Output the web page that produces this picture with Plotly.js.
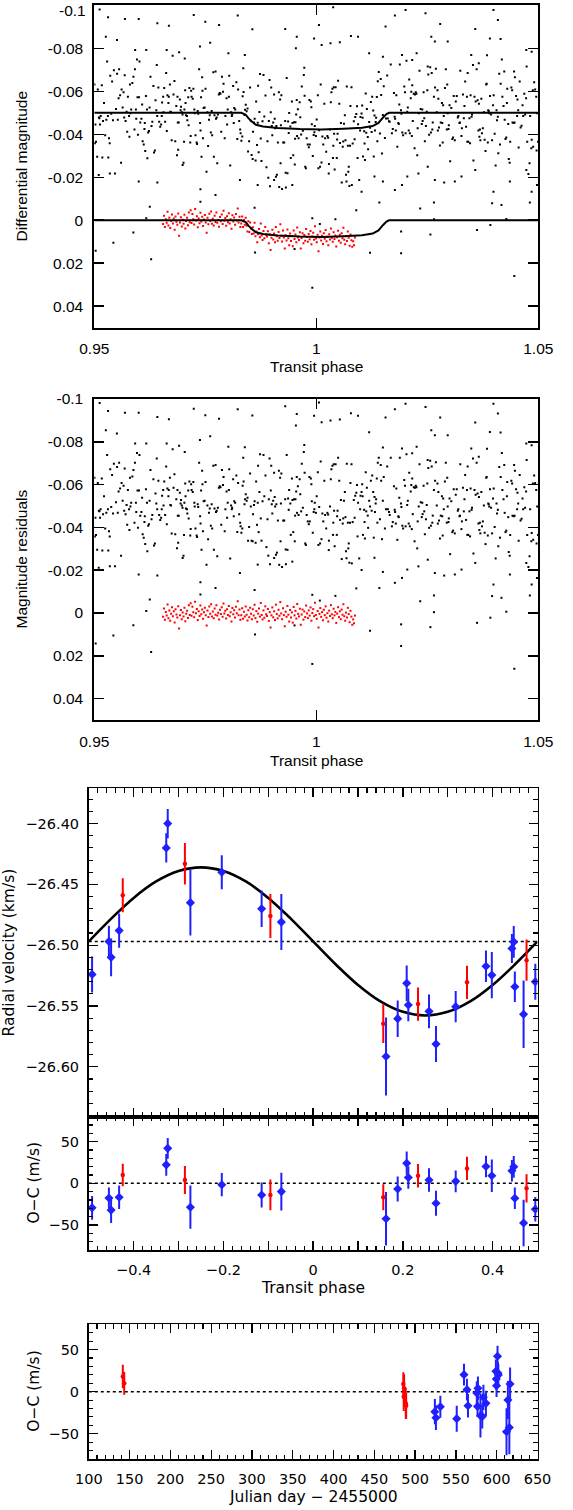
<!DOCTYPE html>
<html>
<head>
<meta charset="utf-8">
<script src="https://cdn.plot.ly/plotly-3.0.1.min.js"></script>
<style>html,body{margin:0;padding:0;background:#fff;}#chart{width:573px;height:1510px;}</style>
</head>
<body>
<div id="chart"></div>
<script>
// ---------------- Photometry (panels 1 & 2) ----------------
// black light curve outside the transit window: [phase, magnitude (offset -0.05)], same in both panels
const blackOut = [
[.95003,-.0632],[.95013,-.0358],[.95025,-.0445],[.95039,-.0365],[.95065,-.0295],[.95079,-.0608],[.95103,-.0478],[.95115,-.0475],[.95129,-.0445],[.95143,-.0485],
[.95169,-.0628],[.95181,-.0292],[.95197,-.0462],[.95219,-.0545],[.95245,-.0395],[.95271,-.0468],[.95289,-.0738],[.95307,-.0485],[.95315,-.0292],[.95331,-.0382],
[.95347,-.0358],[.95359,-.0672],[.95381,-.0495],[.95401,-.0645],[.95421,-.0465],[.95441,-.0698],[.95465,-.0218],[.95489,-.0518],[.95513,-.0682],[.95529,-.0468],
[.95547,-.0568],[.95559,-.0702],[.95581,-.0582],[.95603,-.0268],[.95615,-.0608],[.95639,-.0525],[.95659,-.0595],[.95673,-.0478],[.95685,-.0675],[.95705,-.0462],
[.95727,-.0505],[.95741,-.0412],[.95757,-.0575],[.95783,-.0485],[.95791,-.0388],[.95803,-.0632],[.95813,-.0498],[.95831,-.0515],[.95857,-.0638],[.95881,-.0668],
[.95905,-.0422],[.95915,-.0702],[.95937,-.0515],[.95945,-.0472],[.95961,-.0748],[.95973,-.0572],[.95983,-.0398],[.96007,-.0572],[.96017,-.0738],[.96035,-.0455],
[.96061,-.0472],[.96077,-.0538],[.96089,-.0368],[.96113,-.0352],[.96129,-.0425],[.96137,-.0452],[.96147,-.0322],[.96163,-.0578],[.96187,-.0515],[.96195,-.0288],
[.96213,-.0408],[.96231,-.0415],[.96245,-.0525],[.96265,-.0668],[.96289,-.0438],[.96307,-.0458],[.96331,-.0625],[.96345,-.0315],[.96365,-.0325],[.96379,-.0558],
[.96397,-.0512],[.96407,-.0722],[.96417,-.0485],[.96443,-.0618],[.96461,-.0458],[.96485,-.0435],[.96505,-.0445],[.96519,-.0485],[.96527,-.0548],[.96551,-.0575],
[.96559,-.0502],[.96575,-.0615],[.96595,-.0458],[.96619,-.0685],[.96633,-.0415],[.96647,-.0582],[.96669,-.0545],[.96677,-.0575],[.96703,-.0632],[.96713,-.0505],
[.96727,-.0502],[.96743,-.0372],[.96765,-.0765],[.96785,-.0585],[.96805,-.0648],[.96823,-.0368],[.96847,-.0532],[.96863,-.0302],[.96873,-.0575],[.96881,-.0455],
[.96889,-.0328],[.96901,-.0455],[.96927,-.0562],[.96943,-.0512],[.96953,-.0528],[.96971,-.0502],[.96987,-.0492],[.97009,-.0268],[.97021,-.0365],[.97029,-.0515],
[.97037,-.0752],[.97047,-.0605],[.97055,-.0545],[.97063,-.0488],[.97087,-.0485],[.97095,-.0465],[.97115,-.0572],[.97125,-.0442],[.97141,-.0615],[.97161,-.0362],
[.97171,-.0392],[.97181,-.0602],[.97191,-.0575],[.97217,-.0565],[.97231,-.0612],[.97253,-.0515],[.97261,-.0498],[.97279,-.0395],[.97305,-.0362],[.97315,-.0355],
[.97329,-.0508],[.97341,-.0495],[.97361,-.0702],[.97383,-.0452],[.97393,-.0418],[.97405,-.0572],[.97415,-.0295],[.97429,-.0665],[.97437,-.0602],[.97447,-.0382],
[.97463,-.0522],[.97485,-.0525],[.97505,-.0612],[.97527,-.0225],[.97547,-.0502],[.97563,-.0345],[.97583,-.0468],[.97601,-.0488],[.97625,-.0408],[.97643,-.0508],
[.97655,-.0395],[.97681,-.0688],[.97693,-.0295],[.97707,-.0488],[.97731,-.0692],[.97741,-.0472],[.97757,-.0478],[.97769,-.0265],[.97783,-.0492],[.97805,-.0585],
[.97825,-.0592],[.97841,-.0588],[.97859,-.0412],[.97875,-.0668],[.97899,-.0598],[.97911,-.0635],[.97937,-.0382],[.97953,-.0485],[.97979,-.0568],[.97991,-.0445],
[.98005,-.0515],[.98031,-.0575],[.98039,-.0672],[.98061,-.0255],[.98081,-.0502],[.98097,-.0485],[.98105,-.0492],[.98127,-.0625],[.98141,-.0452],[.98151,-.0522],
[.98173,-.0515],[.98199,-.0642],[.98221,-.0378],[.98239,-.0608],[.98263,-.0462],[.98285,-.0422],[.98295,-.0405],
[1.01653,-.0458],[1.01677,-.0725],[1.01703,-.0405],[1.01723,-.0425],[1.01749,-.0592],[1.01765,-.0482],[1.01775,-.0472],[1.01791,-.0418],[1.01803,-.0582],[1.01825,-.0342],
[1.01847,-.0452],[1.01857,-.0448],[1.01869,-.0538],[1.01881,-.0725],[1.01907,-.0512],[1.01917,-.0495],[1.01937,-.0408],[1.01955,-.0395],[1.01981,-.0622],[1.01997,-.0595],
[1.02011,-.0405],[1.02031,-.0742],[1.02047,-.0505],[1.02061,-.0525],[1.02081,-.0418],[1.02093,-.0655],[1.02107,-.0405],[1.02127,-.0568],[1.02139,-.0598],[1.02151,-.0392],
[1.02161,-.0628],[1.02173,-.0462],[1.02195,-.0588],[1.02213,-.0335],[1.02221,-.0585],[1.02241,-.0595],[1.02255,-.0588],[1.02273,-.0302],[1.02283,-.0428],[1.02307,-.0498],
[1.02325,-.0695],[1.02351,-.0518],[1.02375,-.0448],[1.02387,-.0515],[1.02395,-.0462],[1.02417,-.0595],[1.02431,-.0475],[1.02445,-.0368],[1.02469,-.0438],[1.02487,-.0505],
[1.02501,-.0605],[1.02509,-.0715],[1.02523,-.0678],[1.02541,-.0398],[1.02565,-.0712],[1.02581,-.0408],[1.02599,-.0685],[1.02613,-.0422],[1.02623,-.0455],[1.02649,-.0575],
[1.02675,-.0618],[1.02693,-.0705],[1.02713,-.0502],[1.02729,-.0605],[1.02737,-.0418],[1.02749,-.0565],[1.02763,-.0432],[1.02785,-.0348],[1.02803,-.0455],[1.02829,-.0545],
[1.02837,-.0452],[1.02847,-.0362],[1.02857,-.0535],[1.02871,-.0485],[1.02897,-.0615],[1.02917,-.0702],[1.02939,-.0422],[1.02949,-.0632],[1.02959,-.0498],[1.02977,-.0425],
[1.02985,-.0442],[1.03001,-.0535],[1.03015,-.0275],[1.03041,-.0522],[1.03063,-.0378],[1.03081,-.0385],[1.03095,-.0578],[1.03119,-.0372],[1.03141,-.0552],[1.03163,-.0578],
[1.03187,-.0478],[1.03199,-.0485],[1.03225,-.0452],[1.03235,-.0455],[1.03243,-.0695],[1.03269,-.0392],[1.03279,-.0428],[1.03303,-.0585],[1.03323,-.0475],[1.03337,-.0532],
[1.03353,-.0645],[1.03373,-.0435],[1.03393,-.0575],[1.03401,-.0365],[1.03409,-.0685],[1.03423,-.0365],[1.03449,-.0475],[1.03463,-.0358],[1.03475,-.0582],[1.03497,-.0482],
[1.03507,-.0492],[1.03529,-.0722],[1.03539,-.0278],[1.03563,-.0575],[1.03589,-.0552],[1.03611,-.0702],[1.03633,-.0558],[1.03651,-.0418],[1.03663,-.0542],[1.03673,-.0388],
[1.03685,-.0422],[1.03695,-.0372],[1.03717,-.0565],[1.03731,-.0405],[1.03751,-.0428],[1.03775,-.0502],[1.03791,-.0375],[1.03811,-.0322],[1.03827,-.0632],[1.03837,-.0635],
[1.03845,-.0768],[1.03863,-.0362],[1.03873,-.0512],[1.03883,-.0508],[1.03895,-.0498],[1.03913,-.0578],[1.03937,-.0492],[1.03959,-.0372],[1.03981,-.0535],[1.03995,-.0582],
[1.04017,-.0402],[1.04039,-.0255],[1.04059,-.0512],[1.04069,-.0465],[1.04089,-.0482],[1.04099,-.0312],[1.04121,-.0682],[1.04137,-.0352],[1.04153,-.0635],[1.04179,-.0748],
[1.04191,-.0575],[1.04217,-.0532],[1.04233,-.0692],[1.04243,-.0468],[1.04261,-.0378],[1.04279,-.0385],[1.04293,-.0545],[1.04301,-.0612],[1.04323,-.0448],[1.04335,-.0285],
[1.04355,-.0268],[1.04367,-.0365],[1.04393,-.0618],[1.04411,-.0605],[1.04419,-.0455],[1.04445,-.0452],[1.04455,-.0692],[1.04465,-.0455],[1.04473,-.0665],[1.04499,-.0578],
[1.04523,-.0485],[1.04531,-.0562],[1.04547,-.0512],[1.04557,-.0338],[1.04581,-.0645],[1.04601,-.0432],[1.04623,-.0440],[1.04645,-.0535],[1.04659,-.0485],[1.04685,-.0588],
[1.04703,-.0492],[1.04725,-.0568],[1.04737,-.0715],[1.04751,-.0365],[1.04777,-.0215],[1.04803,-.0265],[1.04817,-.0485],[1.04843,-.0335],[1.04851,-.0374],[1.04877,-.0605],
[1.04885,-.0342],[1.04907,-.0642],[1.04929,-.0608],[1.04953,-.0575],[1.04961,-.0325],[1.04975,-.0498],[1.04993,-.0365],
// outliers read individually
[.9512,-.0981],[.9531,-.0944],[.9569,-.0936],[.9600,-.0936],[.9642,-.0916],[.9668,-.0905],[.9724,-.0955],[.9750,-.0924],[.9781,-.0908],[.9823,-.0952],
[1.0177,-.0952],[1.0201,-.0978],[1.0246,-.0963],[1.0279,-.0913],[1.0358,-.0890],[1.0399,-.0978],[1.0409,-.0932],[1.0415,-.0843],
[.9551,-.0839],[.9526,-.0854],[.9592,-.0792],[.9617,-.0792],[.9663,-.0792],[.9691,-.0781],[.9738,-.0808],[.9761,-.0826],[.9802,-.0777],
[1.0193,-.0769],[1.0216,-.0746],[1.0226,-.0777],[1.0259,-.0854],[1.0267,-.0831],[1.0296,-.0831],[1.0349,-.0769],[1.0366,-.0730],[1.0391,-.0846],[1.0473,-.0792],[1.0485,-.0784],
[.9510,-.0211],[.9535,-.0218],[.9600,-.0180],[.9642,-.0175],[.9699,-.0257],[.9739,-.0144],[.9773,-.0117],[.9828,-.0187],
[1.0177,-.0141],[1.0193,-.0164],[1.0205,-.0203],[1.0230,-.0218],[1.0251,-.0249],[1.0267,-.0187],[1.0288,-.0175],[1.0312,-.0180],[1.0327,-.0203],[1.0358,-.0234],[1.0399,-.0133],[1.0436,-.0180],[1.0473,-.0234],[1.0485,-.0133],[1.0497,-.0164],
[.9625,-.0063],[.9617,-.0009],[.9588,.0057],[.9543,.0105],[.9503,.0142],[.9628,.0182],[.9739,-.0086],
[1.0191,.0053],[1.0191,.0154],[1.0234,-.0055],[1.0257,.0066],[1.0265,-.0082],[1.0265,-.0004],[1.0362,.0046],[1.0392,.0022],[1.0396,-.0079],[1.0417,-.0071],[1.0428,-.0006],[1.0446,.0260],[1.0481,-.0082]
];
// black light curve inside the transit window: [phase, diff. magnitude, residual]
const blackIn = [
[.98313,-.0370,-.0375],[.98333,-.0390,-.0395],[.98341,-.0577,-.0595],[.98355,-.0707,-.0725],[.98363,-.0597,-.0615],[.98383,-.0490,-.0508],[.98395,-.0514,-.0532],[.98411,-.0537,-.0555],[.98431,-.0507,-.0525],[.98451,-.0520,-.0538],
[.98463,-.0320,-.0338],[.98487,-.0367,-.0402],[.98509,-.0617,-.0652],[.98525,-.0463,-.0498],[.98543,-.0303,-.0338],[.98567,-.0285,-.0335],[.98575,-.0412,-.0462],[.98597,-.0455,-.0505],[.98611,-.0472,-.0522],[.98633,-.0278,-.0328],
[.98645,-.0553,-.0615],[.98665,-.0350,-.0412],[.98681,-.0453,-.0515],[.98689,-.0626,-.0688],[.98701,-.0316,-.0378],[.98719,-.0503,-.0565],[.98733,-.0680,-.0742],[.98749,-.0380,-.0442],[.98765,-.0276,-.0338],[.98789,-.0460,-.0522],
[.98811,-.0676,-.0738],[.98829,-.0483,-.0545],[.98855,-.0580,-.0642],[.98877,-.0246,-.0308],[.98901,-.0368,-.0438],[.98919,-.0198,-.0268],[.98931,-.0462,-.0532],[.98947,-.0652,-.0722],[.98957,-.0158,-.0228],[.98975,-.0502,-.0572],
[.98985,-.0618,-.0688],[.98997,-.0438,-.0508],[.99009,-.0395,-.0465],[.99029,-.0455,-.0525],[.99049,-.0585,-.0655],[.99063,-.0472,-.0542],[.99073,-.0428,-.0498],[.99091,-.0202,-.0272],[.99101,-.0438,-.0508],[.99113,-.0212,-.0282],
[.99135,-.0362,-.0432],[.99157,-.0595,-.0665],[.99165,-.0155,-.0225],[.99185,-.0562,-.0632],[.99195,-.0265,-.0335],[.99203,-.0442,-.0512],[.99213,-.0582,-.0652],[.99229,-.0145,-.0215],[.99255,-.0362,-.0432],[.99277,-.0362,-.0432],
[.99299,-.0462,-.0532],[.99315,-.0152,-.0228],[.99333,-.0662,-.0738],[.99351,-.0219,-.0295],[.99365,-.0459,-.0535],[.99379,-.0406,-.0482],[.99389,-.0499,-.0575],[.99415,-.0436,-.0512],[.99425,-.0289,-.0365],[.99451,-.0552,-.0628],
[.99463,-.0452,-.0528],[.99481,-.0302,-.0378],[.99499,-.0456,-.0532],[.99515,-.0259,-.0335],[.99523,-.0379,-.0455],[.99531,-.0456,-.0532],[.99547,-.0492,-.0568],[.99559,-.0559,-.0635],[.99567,-.0392,-.0468],[.99585,-.0516,-.0592],
[.99601,-.0382,-.0458],[.99625,-.0549,-.0625],[.99639,-.0479,-.0555],[.99659,-.0399,-.0475],[.99673,-.0622,-.0698],[.99697,-.0416,-.0492],[.99719,-.0676,-.0752],[.99729,-.0709,-.0785],[.99737,-.0579,-.0655],[.99751,-.0249,-.0325],
[.99765,-.0242,-.0318],[.99783,-.0382,-.0458],[.99807,-.0352,-.0428],[.99831,-.0339,-.0415],[.99845,-.0559,-.0635],[.99853,-.0352,-.0428],[.99877,-.0552,-.0628],[.99889,-.0526,-.0602],[.99899,-.0446,-.0522],[.99921,-.0299,-.0375],
[.99941,-.0396,-.0472],[.99957,-.0409,-.0485],[.99965,-.0439,-.0515],[.99991,-.0392,-.0468],[1.00009,-.0469,-.0545],[1.00035,-.0582,-.0658],[1.00047,-.0242,-.0318],[1.00065,-.0419,-.0495],[1.00085,-.0249,-.0325],[1.00099,-.0632,-.0708],
[1.00117,-.0269,-.0345],[1.00137,-.0389,-.0465],[1.00157,-.0352,-.0428],[1.00181,-.0542,-.0618],[1.00199,-.0382,-.0458],[1.00223,-.0319,-.0395],[1.00249,-.0392,-.0468],[1.00267,-.0384,-.0460],[1.00285,-.0262,-.0338],[1.00309,-.0422,-.0498],
[1.00327,-.0549,-.0625],[1.00341,-.0596,-.0672],[1.00363,-.0612,-.0688],[1.00375,-.0289,-.0365],[1.00383,-.0346,-.0422],[1.00393,-.0619,-.0695],[1.00401,-.0402,-.0478],[1.00413,-.0236,-.0312],[1.00435,-.0619,-.0695],[1.00461,-.0289,-.0365],
[1.00469,-.0376,-.0452],[1.00479,-.0402,-.0478],[1.00491,-.0649,-.0725],[1.00517,-.0542,-.0618],[1.00535,-.0359,-.0435],[1.00555,-.0452,-.0528],[1.00573,-.0176,-.0252],[1.00595,-.0342,-.0418],[1.00607,-.0366,-.0442],[1.00623,-.0449,-.0525],
[1.00643,-.0489,-.0565],[1.00657,-.0372,-.0448],[1.00669,-.0212,-.0288],[1.00687,-.0622,-.0698],[1.00711,-.0346,-.0422],[1.00721,-.0226,-.0302],[1.00731,-.0249,-.0325],[1.00745,-.0159,-.0235],[1.00759,-.0346,-.0422],[1.00769,-.0532,-.0608],
[1.00793,-.0619,-.0695],[1.00819,-.0357,-.0425],[1.00845,-.0460,-.0528],[1.00863,-.0377,-.0445],[1.00877,-.0480,-.0548],[1.00901,-.0494,-.0562],[1.00917,-.0530,-.0598],[1.00929,-.0290,-.0358],[1.00941,-.0447,-.0515],[1.00967,-.0187,-.0255],
[1.00987,-.0417,-.0485],[1.00995,-.0480,-.0548],[1.01019,-.0497,-.0565],[1.01033,-.0534,-.0602],[1.01043,-.0477,-.0545],[1.01051,-.0297,-.0365],[1.01077,-.0414,-.0482],[1.01087,-.0357,-.0425],[1.01095,-.0280,-.0348],[1.01113,-.0590,-.0658],
[1.01125,-.0407,-.0475],[1.01139,-.0517,-.0585],[1.01159,-.0387,-.0455],[1.01167,-.0330,-.0398],[1.01191,-.0457,-.0525],[1.01211,-.0430,-.0498],[1.01229,-.0550,-.0618],[1.01247,-.0410,-.0478],[1.01259,-.0574,-.0642],[1.01281,-.0510,-.0565],
[1.01295,-.0297,-.0352],[1.01311,-.0487,-.0542],[1.01321,-.0417,-.0472],[1.01337,-.0457,-.0512],[1.01347,-.0477,-.0532],[1.01363,-.0573,-.0628],[1.01375,-.0367,-.0422],[1.01385,-.0647,-.0702],[1.01407,-.0690,-.0725],[1.01433,-.0403,-.0438],
[1.01451,-.0657,-.0692],[1.01461,-.0583,-.0618],[1.01479,-.0310,-.0345],[1.01499,-.0490,-.0525],[1.01519,-.0623,-.0635],[1.01545,-.0383,-.0395],[1.01571,-.0473,-.0485],[1.01597,-.0673,-.0685],[1.01611,-.0473,-.0485],[1.01637,-.0460,-.0472],
// outliers read individually
[.9839,-.0769,-.0774],[.9856,-.0888,-.0923],[.9861,-.0058,-.0108],[.9862,.0150,.0100],[.9868,-.0164,-.0226],[.9905,-.0187,-.0257],[.9930,-.0890,-.0966],[.9931,-.0221,-.0297],
[.9946,-.0164,-.0240],[.9951,.0134,.0058],[.9954,-.0800,-.0876],[.9956,-.0854,-.0930],[.9991,-.0009,-.0085],[.9991,.0314,.0238],[.9995,-.0846,-.0922],[1.0006,-.0908,-.0984],
[1.0008,.0018,-.0058],[1.0012,-.0815,-.0891],[1.0028,-.0218,-.0294],[1.0032,-.0823,-.0899],[1.0038,-.0991,-.1067],[1.0043,-.0004,-.0080],[1.0053,-.0828,-.0904],[1.0068,-.0180,-.0256],
[1.0078,-.0857,-.0933],[1.0080,-.0164,-.0232],[1.0090,-.0047,-.0115],[1.0094,-.0854,-.0922],[1.0102,-.0133,-.0201],[1.0119,-.0777,-.0845],[1.0121,.0151,.0083],[1.0131,-.0203,-.0258],
[1.0142,-.0082,-.0117],[1.0150,-.0761,-.0773],[1.0150,-.0180,-.0192],[1.0156,-.0901,-.0913]
];
// red light curve outside transit: [phase, magnitude] (same in both panels)
const redOut = [
[.9655,.0018],[.9657,-.0021],[.9659,.0031],[.9661,-.0005],[.9663,.0012],[.9665,-.0040],[.9667,.0025],[.9669,-.0012],[.9671,.0036],[.9673,.0003],[.9675,-.0027],[.9677,.0015],[.9679,-.0008],[.9681,.0044],[.9683,-.0017],[.9685,.0007],[.9687,.0021],[.9689,-.0031],[.9691,.0072],[.9693,.0010],
[.9695,-.0014],[.9697,.0029],[.9699,-.0002],[.9701,.0016],[.9703,-.0025],[.9705,.0038],[.9707,.0004],[.9709,-.0011],[.9711,.0023],[.9713,-.0036],[.9715,.0009],[.9717,-.0046],[.9719,.0013],[.9721,-.0029],[.9723,-.0004],[.9725,.0020],[.9727,-.0052],[.9729,.0001],[.9731,-.0019],[.9733,.0033],
[.9735,-.0008],[.9737,.0014],[.9739,-.0035],[.9741,.0006],[.9743,-.0016],[.9745,.0027],[.9747,-.0003],[.9749,-.0024],[.9751,.0011],[.9753,.0058],[.9755,-.0012],[.9757,.0019],[.9759,-.0030],[.9761,.0003],[.9763,-.0041],[.9765,.0016],[.9767,-.0007],[.9769,.0024],[.9771,-.0021],[.9773,.0008],
[.9775,-.0036],[.9777,.0012],[.9779,-.0001],[.9781,.0030],[.9783,-.0015],[.9785,.0005],[.9787,-.0027],[.9789,.0018],[.9791,-.0044],[.9793,.0002],[.9795,-.0010],[.9797,.0026],[.9799,-.0018],[.9801,.0009],[.9803,-.0033],[.9805,.0015],[.9807,-.0004],[.9809,.0040],[.9811,-.0023],[.9813,.0006],
[.9815,-.0013],[.9817,.0021],[.9819,-.0029],[.9821,.0001],[.9823,-.0055],[.9825,.0011],[.9827,-.0016],[.9829,.0032]
];
// red light curve in transit window: [phase, diff. magnitude, residual]
const redIn = [
[.9831,.0015,.0010],[.9833,-.0017,-.0022],[.9835,.0032,.0027],[.9837,-.0001,-.0006],[.9839,.0021,.0016],[.9841,-.0012,-.0030],[.9843,.0026,.0008],[.9845,.0053,.0035],[.9847,.0005,-.0013],[.9849,.0055,.0020],
[.9851,.0010,-.0025],[.9853,.0039,.0004],[.9855,.0064,.0029],[.9857,.0033,-.0017],[.9859,.0062,.0012],[.9861,.0012,-.0038],[.9863,.0074,.0024],[.9865,.0053,-.0009],[.9867,.0103,.0041],[.9869,.0065,.0003],
[.9871,.0041,-.0021],[.9873,.0079,.0017],[.9875,.0015,-.0047],[.9877,.0071,.0009],[.9879,.0092,.0030],[.9881,.0050,-.0012],[.9883,.0084,.0022],[.9885,.0031,-.0031],[.9887,.0068,.0006],[.9889,.0076,.0014],
[.9891,.0051,-.0019],[.9893,.0107,.0037],[.9895,.0066,-.0004],[.9897,.0138,.0068],[.9899,.0081,.0011],[.9901,.0044,-.0026],[.9903,.0090,.0020],[.9905,.0062,-.0008],[.9907,.0103,.0033],[.9909,.0031,-.0039],
[.9911,.0075,.0005],[.9913,.0095,.0025],[.9915,.0055,-.0015],[.9917,.0083,.0013],[.9919,.0019,-.0051],[.9921,.0072,.0002],[.9923,.0099,.0029],[.9925,.0048,-.0022],[.9927,.0080,.0010],[.9929,.0132,.0062],
[.9931,.0070,-.0006],[.9933,.0094,.0018],[.9935,.0043,-.0033],[.9937,.0084,.0008],[.9939,.0116,.0040],[.9941,.0062,-.0014],[.9943,.0097,.0021],[.9945,.0073,-.0003],[.9947,.0121,.0045],[.9949,.0048,-.0028],
[.9951,.0087,.0011],[.9953,.0066,-.0010],[.9955,.0102,.0026],[.9957,.0034,-.0042],[.9959,.0080,.0004],[.9961,.0092,.0016],[.9963,.0056,-.0020],[.9965,.0131,.0055],[.9967,.0083,.0007],[.9969,.0060,-.0016],
[.9971,.0107,.0031],[.9973,.0069,-.0007],[.9975,.0095,.0019],[.9977,.0041,-.0035],[.9979,.0078,.0002],[.9981,.0100,.0024],[.9983,.0064,-.0012],[.9985,.0088,.0012],[.9987,.0050,-.0026],[.9989,.0112,.0036],
[.9991,.0076,.0000],[.9993,.0058,-.0018],[.9995,.0091,.0015],[.9997,.0028,-.0048],[.9999,.0085,.0009],[1.0001,.0103,.0027],[1.0003,.0067,-.0009],[1.0005,.0144,.0068],[1.0007,.0080,.0004],[1.0009,.0053,-.0023],
[1.0011,.0094,.0018],[1.0013,.0072,-.0004],[1.0015,.0110,.0034],[1.0017,.0061,-.0015],[1.0019,.0086,.0010],[1.0021,.0045,-.0031],[1.0023,.0098,.0022],[1.0025,.0077,.0001],[1.0027,.0116,.0040],[1.0029,.0065,-.0011],
[1.0031,.0090,.0014],[1.0033,.0039,-.0037],[1.0035,.0082,.0006],[1.0037,.0100,.0024],[1.0039,.0056,-.0020],[1.0041,.0087,.0011],[1.0043,.0071,-.0005],[1.0045,.0122,.0046],[1.0047,.0079,.0003],[1.0049,.0049,-.0027],
[1.0051,.0095,.0019],[1.0053,.0068,-.0008],[1.0055,.0105,.0029],[1.0057,.0060,-.0016],[1.0059,.0084,.0008],[1.0061,.0035,-.0041],[1.0063,.0091,.0015],[1.0065,.0112,.0036],[1.0067,.0074,-.0002],[1.0069,.0097,.0021],
[1.0071,.0052,-.0024],[1.0073,.0081,.0005],[1.0075,.0119,.0043],[1.0077,.0066,-.0010],[1.0079,.0093,.0017],[1.0081,.0123,.0055],[1.0083,.0098,.0030],[1.0085,.0116,.0048],[1.0087,.0080,.0012]
];
// transit model
const modelPhase = [0.95,0.9831,0.9841,0.9847,0.9856,0.9864,0.9880,0.9913,0.9963,1.0012,1.0061,1.0103,1.0127,1.0140,1.0150,1.0158,1.0164,1.05];
const modelLower = [0,0,0.0009,0.0025,0.0043,0.0056,0.0064,0.0071,0.0076,0.0078,0.0074,0.0070,0.0062,0.0047,0.0023,0.0006,0,0];
const modelUpper = [-0.05,-0.05,-0.0491,-0.0475,-0.0457,-0.0444,-0.0436,-0.0429,-0.0424,-0.0422,-0.0426,-0.0430,-0.0438,-0.0453,-0.0477,-0.0494,-0.05,-0.05];
const photXTicks = [0.95,1,1.05];
const photXText = ['0.95','1','1.05'];
const photYTicks = [-0.1,-0.08,-0.06,-0.04,-0.02,0,0.02,0.04];
const photYText = ['-0.1','-0.08','-0.06','-0.04','-0.02','0','0.02','0.04'];

// ---------------- Radial velocities ----------------
const bluePhase = [-0.4927,-0.4552,-0.4503,-0.4324,-0.3274,-0.3241,-0.2736,-0.2036,-0.1148,-0.0709,0.1624,0.1884,0.2085,0.2121,0.2582,0.2738,0.3177,0.3852,0.3982,0.4430,0.4471,0.4495,0.4690,0.4951];
const blueRV = [-26.524,-26.497,-26.510,-26.488,-26.420,-26.400,-26.465,-26.440,-26.470,-26.481,-26.5915,-26.5604,-26.5313,-26.5492,-26.5544,-26.5813,-26.5505,-26.5173,-26.5246,-26.5027,-26.4973,-26.5342,-26.5568,-26.530];
const blueRVerr = [0.0148,0.013,0.0155,0.014,0.012,0.012,0.027,0.014,0.015,0.023,0.032,0.015,0.0147,0.0133,0.0139,0.0148,0.0128,0.013,0.019,0.012,0.013,0.0126,0.0277,0.0148];
const blueOC = [-29.4,-17.5,-32.1,-16.7,22.2,42.0,-28.6,-1.6,-13.9,-9.9,-42.5,-6.7,24.2,7.1,4.0,-23.8,2.4,20.2,9.1,15.1,19.8,-17.9,-47.6,-31.0];
const blueOCerr = [14.3,12.5,15.5,14,13,12.5,26,14,15,22.6,32,15,14,13.5,14,15,13,13,19.5,13,13,13,28,14.7];
const blueJD = [582.3,576.5,551.0,564.8,601.5,601.0,580.1,575.6,586.8,613.7,615.5,583.7,599.0,599.8,577.0,524.2,563.5,559.9,616.4,599.5,602.0,530.9,612.0,525.5];

const redPhase = [-0.4243,-0.2858,-0.0953,0.1563,0.2337,0.3429,0.4756];
const redRV = [-26.459,-26.433,-26.476,-26.5645,-26.5484,-26.5305,-26.5123];
const redRVerr = [0.014,0.017,0.018,0.016,0.0137,0.0137,0.017];
const redOC = [9.9,4.0,-13.9,-16.7,9.1,17.9,-6.0];
const redOCerr = [13.5,16.7,18.5,15.5,14,14,17];
const redJD = [143.4,486.5,488.5,489.0,485.5,141.7,486.0];

// orbital model
const rvModelPhase = [-0.5,-0.45,-0.4,-0.35,-0.3,-0.25,-0.2,-0.15,-0.1,-0.05,0,0.05,0.1,0.15,0.2,0.25,0.3,0.35,0.4,0.45,0.5];
const rvModel = [-26.4969,-26.4781,-26.4611,-26.4476,-26.4390,-26.4360,-26.4390,-26.4476,-26.4611,-26.4781,-26.4969,-26.5157,-26.5327,-26.5462,-26.5548,-26.5578,-26.5548,-26.5462,-26.5327,-26.5157,-26.4969];
const rvGamma = -26.497;
const phaseSpan = [-0.5,0.5];
const jdSpan = [100,650];
const phaseTicks = [-0.5,-0.4,-0.3,-0.2,-0.1,0,0.1,0.2,0.3,0.4,0.5];
const phaseTickText = ['','\u22120.4','','\u22120.2','','0','','0.2','','0.4',''];

// ---------------- drawing ----------------
const col = (a,i) => a.map(p => p[i]);
const BLUE = 'rgb(32,32,255)', RED = 'rgb(255,0,0)';
const photFont = {family:'Liberation Sans, Arial, sans-serif', size:15.5, color:'#000'};
const idlFont = {family:'DejaVu Sans, sans-serif', size:14.5, color:'#000'};
const idlTitle = {family:'DejaVu Sans, sans-serif', size:15.5, color:'#000'};

const traces = [];
function phot(xa, ya, inCol){
  traces.push({type:'scatter',mode:'markers',xaxis:xa,yaxis:ya,
    x: col(blackOut,0).concat(col(blackIn,0)),
    y: col(blackOut,1).concat(col(blackIn,inCol)),
    marker:{symbol:'square',size:2,color:'#000',line:{width:0}},hoverinfo:'skip'});
  traces.push({type:'scatter',mode:'markers',xaxis:xa,yaxis:ya,
    x: col(redOut,0).concat(col(redIn,0)),
    y: col(redOut,1).concat(col(redIn,inCol)),
    marker:{symbol:'square',size:2,color:RED,line:{width:0}},hoverinfo:'skip'});
}
phot('x','y',1);
traces.push({type:'scatter',mode:'lines',xaxis:'x',yaxis:'y',x:modelPhase,y:modelLower,line:{color:'#000',width:2},hoverinfo:'skip'});
traces.push({type:'scatter',mode:'lines',xaxis:'x',yaxis:'y',x:modelPhase,y:modelUpper,line:{color:'#000',width:2},hoverinfo:'skip'});
phot('x2','y2',2);

// RV panel
traces.push({type:'scatter',mode:'lines',xaxis:'x3',yaxis:'y3',x:phaseSpan,y:[rvGamma,rvGamma],line:{color:'#000',width:1.5,dash:'dot'},hoverinfo:'skip'});
traces.push({type:'scatter',mode:'lines',xaxis:'x3',yaxis:'y3',x:rvModelPhase,y:rvModel,line:{color:'#000',width:2.6,shape:'spline',smoothing:1},hoverinfo:'skip'});
function rvPts(xa, ya, xs, ys, errs, color, sym, size){
  traces.push({type:'scatter',mode:'markers',xaxis:xa,yaxis:ya,x:xs,y:ys,
    error_y:{type:'data',array:errs,color:color,thickness:2,width:0},
    marker:{symbol:sym,size:size,color:color},hoverinfo:'skip'});
}
rvPts('x3','y3',bluePhase,blueRV,blueRVerr,BLUE,'diamond',7);
rvPts('x3','y3',redPhase,redRV,redRVerr,RED,'circle',4.5);
traces.push({type:'scatter',mode:'lines',xaxis:'x4',yaxis:'y4',x:phaseSpan,y:[0,0],line:{color:'#000',width:1.5,dash:'dot'},hoverinfo:'skip'});
rvPts('x4','y4',bluePhase,blueOC,blueOCerr,BLUE,'diamond',7);
rvPts('x4','y4',redPhase,redOC,redOCerr,RED,'circle',4.5);
traces.push({type:'scatter',mode:'lines',xaxis:'x5',yaxis:'y5',x:jdSpan,y:[0,0],line:{color:'#000',width:1.5,dash:'dot'},hoverinfo:'skip'});
rvPts('x5','y5',blueJD,blueOC,blueOCerr,BLUE,'diamond',7);
rvPts('x5','y5',redJD,redOC,redOCerr,RED,'circle',4.5);

const W = 573, H = 1510;
const dx = (a,b) => [a/W, b/W];
const dy = (top,bot) => [1-bot/H, 1-top/H];

function photX(dom, anchor){ return {domain:dom, anchor:anchor, range:[0.95,1.05], tickmode:'array', tickvals:photXTicks, ticktext:photXText,
  ticks:'inside', ticklen:10, tickwidth:1.5, tickcolor:'#000', mirror:'ticks', showline:true, linewidth:2, linecolor:'#000',
  showgrid:false, zeroline:false, tickfont:photFont, ticklabelstandoff:6, ticklabeloverflow:'allow'}; }
function photY(dom, anchor, labels){ return {domain:dom, anchor:anchor, range:[0.05,-0.1], tickmode:'array', tickvals:photYTicks, ticktext:labels,
  ticks:'inside', ticklen:10, tickwidth:1.5, tickcolor:'#000', mirror:'ticks', showline:true, linewidth:2, linecolor:'#000',
  showgrid:false, zeroline:false, tickfont:photFont, ticklabelstandoff:6, ticklabeloverflow:'allow'}; }
function idlAxis(extra){ return Object.assign({ticks:'inside', ticklen:9, tickwidth:1.3, tickcolor:'#000', mirror:'ticks', showline:true,
  linewidth:1.8, linecolor:'#000', showgrid:false, zeroline:false, tickfont:idlFont, ticklabeloverflow:'allow'}, extra); }
const minorOpt = (dt, t0) => ({ticks:'inside', ticklen:4.5, tickwidth:1.1, tickcolor:'#000', dtick:dt, tick0:t0, showgrid:false});

// top panel: the "-0.1" label sits against the top edge, so it is placed as a label just below the edge
const topPanelLabels = [''].concat(photYText.slice(1));

const xd = dx(88.8,537.5);
const layout = {
  width:W, height:H, margin:{l:0,r:0,t:0,b:0}, showlegend:false,
  paper_bgcolor:'#fff', plot_bgcolor:'#fff',
  xaxis: photX(dx(94.3,538.3),'y'),
  yaxis: photY(dy(5.3,327.7),'x',topPanelLabels),
  xaxis2: photX(dx(94.3,538.3),'y2'),
  yaxis2: photY(dy(399,720),'x2',photYText),
  xaxis3: idlAxis({domain:xd, anchor:'y3', range:phaseSpan, tickmode:'array', tickvals:phaseTicks, showticklabels:false, minor:minorOpt(0.02,-0.5)}),
  yaxis3: idlAxis({domain:dy(788.3,1116.7), anchor:'x3', range:[-26.641,-26.371], dtick:0.05, tick0:-26.6, tickformat:'.2f', minor:minorOpt(0.01,-26.6), ticklabelstandoff:5}),
  xaxis4: idlAxis({domain:xd, anchor:'y4', range:phaseSpan, tickmode:'array', tickvals:phaseTicks, ticktext:phaseTickText, minor:minorOpt(0.02,-0.5), ticklabelstandoff:6}),
  yaxis4: idlAxis({domain:dy(1116.7,1250), anchor:'x4', range:[-80,80], tickmode:'array', tickvals:[-50,0,50], ticktext:['\u221250','0','50'], minor:minorOpt(10,0), ticklabelstandoff:5}),
  xaxis5: idlAxis({domain:xd, anchor:'y5', range:jdSpan, dtick:50, tick0:100, minor:minorOpt(10,100), ticklabelstandoff:6}),
  yaxis5: idlAxis({domain:dy(1324.3,1459), anchor:'x5', range:[-80,80], tickmode:'array', tickvals:[-50,0,50], ticktext:['\u221250','0','50'], minor:minorOpt(10,0), ticklabelstandoff:5}),
  annotations:[
    {text:photYText[0], xref:'paper', yref:'paper', x:86.5/W, y:1-1/H, showarrow:false, font:photFont, xanchor:'right', yanchor:'top', borderpad:0},
    {text:'Differential magnitude', xref:'paper', yref:'paper', x:21/W, y:1-166.5/H, textangle:-90, showarrow:false, font:photFont, xanchor:'center', yanchor:'middle'},
    {text:'Transit phase', xref:'paper', yref:'paper', x:316.3/W, y:1-366.7/H, showarrow:false, font:photFont, xanchor:'center', yanchor:'middle'},
    {text:'Magnitude residuals', xref:'paper', yref:'paper', x:21/W, y:1-559.5/H, textangle:-90, showarrow:false, font:photFont, xanchor:'center', yanchor:'middle'},
    {text:'Transit phase', xref:'paper', yref:'paper', x:316.3/W, y:1-760/H, showarrow:false, font:photFont, xanchor:'center', yanchor:'middle'},
    {text:'Radial velocity (km/s)', xref:'paper', yref:'paper', x:9/W, y:1-952.5/H, textangle:-90, showarrow:false, font:idlTitle, xanchor:'center', yanchor:'middle'},
    {text:'O\u2212C (m/s)', xref:'paper', yref:'paper', x:34/W, y:1-1183.4/H, textangle:-90, showarrow:false, font:idlTitle, xanchor:'center', yanchor:'middle'},
    {text:'Transit phase', xref:'paper', yref:'paper', x:313.2/W, y:1-1288/H, showarrow:false, font:idlTitle, xanchor:'center', yanchor:'middle'},
    {text:'O\u2212C (m/s)', xref:'paper', yref:'paper', x:34/W, y:1-1391.7/H, textangle:-90, showarrow:false, font:idlTitle, xanchor:'center', yanchor:'middle'},
    {text:'Julian day \u2212 2455000', xref:'paper', yref:'paper', x:313.2/W, y:1-1496.7/H, showarrow:false, font:idlTitle, xanchor:'center', yanchor:'middle'}
  ]
};
Plotly.newPlot('chart', traces, layout, {staticPlot:true, displayModeBar:false});
</script>
</body>
</html>
